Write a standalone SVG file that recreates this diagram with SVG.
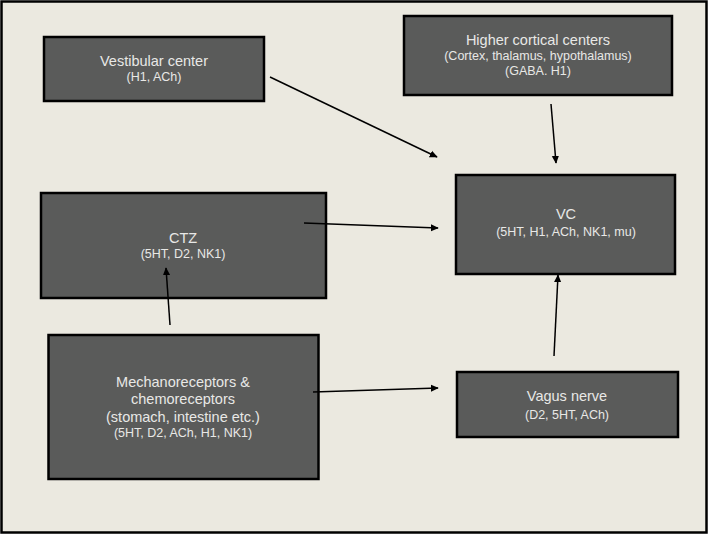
<svg xmlns="http://www.w3.org/2000/svg" width="709" height="535" viewBox="0 0 709 535">
<defs>
<style>
.box{fill:#5a5b5a;stroke:#000;stroke-width:2.5}
.t{font-family:"Liberation Sans",Arial,sans-serif;fill:#e8e8e6;text-anchor:middle}
.h{font-size:14.5px}
.s{font-size:12.5px}
.c{stroke:#000;stroke-width:1.5;fill:none;marker-end:url(#ah)}
</style>
<marker id="ah" viewBox="0 0 10 10" refX="9" refY="5" markerWidth="8" markerHeight="8" markerUnits="userSpaceOnUse" orient="auto">
<path d="M0,0.5 L10,5 L0,9.5 z" fill="#000"/>
</marker>
</defs>
<rect x="1.5" y="1.5" width="705" height="531" fill="#ebe9e0" stroke="#000" stroke-width="2.5"/>
<g id="vestibular">
<rect class="box" x="44" y="37" width="220" height="64"/>
<text class="t h" x="154" y="66">Vestibular center</text>
<text class="t s" x="154" y="81">(H1, ACh)</text>
</g>
<g id="higher">
<rect class="box" x="404" y="16" width="268" height="79"/>
<text class="t h" x="538" y="45">Higher cortical centers</text>
<text class="t s" x="538" y="59.5">(Cortex, thalamus, hypothalamus)</text>
<text class="t s" x="538" y="75">(GABA. H1)</text>
</g>
<g id="vc">
<rect class="box" x="456" y="175" width="219" height="99"/>
<text class="t h" x="566" y="219">VC</text>
<text class="t s" x="566" y="236">(5HT, H1, ACh, NK1, mu)</text>
</g>
<g id="ctz">
<rect class="box" x="41" y="193" width="285" height="105"/>
<text class="t h" x="183" y="243">CTZ</text>
<text class="t s" x="183" y="258">(5HT, D2, NK1)</text>
</g>
<g id="mechano">
<rect class="box" x="48.5" y="335" width="270" height="144"/>
<text class="t h" x="183" y="387">Mechanoreceptors &amp;</text>
<text class="t h" x="183" y="404">chemoreceptors</text>
<text class="t h" x="183" y="422">(stomach, intestine etc.)</text>
<text class="t s" x="183" y="437">(5HT, D2, ACh, H1, NK1)</text>
</g>
<g id="vagus">
<rect class="box" x="457" y="372" width="221" height="65"/>
<text class="t h" x="567" y="401">Vagus nerve</text>
<text class="t s" x="567" y="419">(D2, 5HT, ACh)</text>
</g>
<g id="connectors">
<line class="c" x1="270" y1="77" x2="437" y2="157"/>
<line class="c" x1="551" y1="104" x2="556" y2="163"/>
<line class="c" x1="304" y1="223" x2="438" y2="228"/>
<line class="c" x1="170" y1="325" x2="166" y2="268"/>
<line class="c" x1="313" y1="392" x2="438" y2="388"/>
<line class="c" x1="554" y1="356" x2="558" y2="275"/>
</g>
</svg>
